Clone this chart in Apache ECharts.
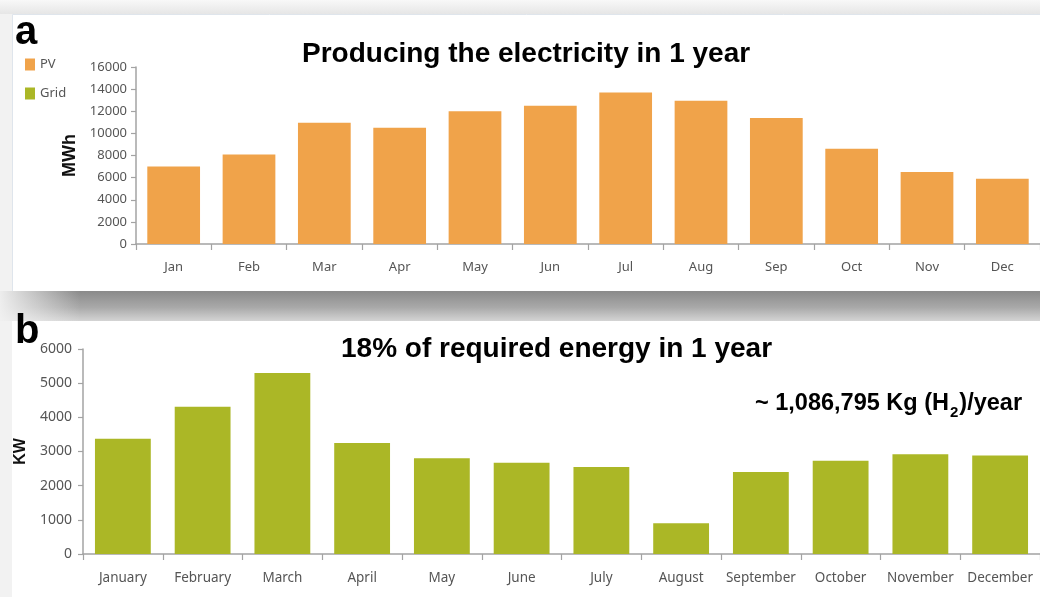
<!DOCTYPE html>
<html>
<head>
<meta charset="utf-8">
<script src="https://cdn.jsdelivr.net/npm/echarts@6/dist/echarts.min.js"></script>
<style>
  html, body { margin: 0; padding: 0; background: #f2f2f2; }
  #chart { width: 1040px; height: 597px; }
</style>
</head>
<body>
<div id="chart"></div>
<script>
// Monthly categories
const monthsShort = ['Jan', 'Feb', 'Mar', 'Apr', 'May', 'Jun', 'Jul', 'Aug', 'Sep', 'Oct', 'Nov', 'Dec'];
const monthsLong = ['January', 'February', 'March', 'April', 'May', 'June', 'July', 'August', 'September', 'October', 'November', 'December'];

// Panel a: PV electricity production (MWh)
const pvValues = [7000, 8100, 10950, 10500, 12000, 12500, 13700, 12950, 11400, 8600, 6500, 5900];

// Panel b: energy drawn (KW)
const gridValues = [3370, 4310, 5300, 3250, 2800, 2670, 2550, 900, 2400, 2730, 2920, 2880];

// Axis ranges
const pvAxis = { min: 0, max: 16000, interval: 2000 };
const gridAxis = { min: 0, max: 6000, interval: 1000 };

const titleA = 'Producing the electricity in 1 year';
const titleB = '18% of required energy in 1 year';

const PV_COLOR = '#F0A34A';
const GRID_COLOR = '#ABB726';
const AXIS_COLOR = '#a3a3a3';
const LABEL_COLOR = '#555555';
const LABEL_FONT = 'Noto Sans';
const BOLD_FONT = 'Liberation Sans';

const chart = echarts.init(document.getElementById('chart'), null, { renderer: 'canvas' });

function valueAxis(gridIndex, range, name, nameSize, labelSize, labelMargin, nameGap) {
  return {
    gridIndex: gridIndex,
    type: 'value',
    min: range.min,
    max: range.max,
    interval: range.interval,
    name: name,
    nameLocation: 'middle',
    nameRotate: 90,
    nameGap: nameGap,
    nameTextStyle: { fontFamily: BOLD_FONT, fontWeight: 'bold', fontSize: nameSize, color: '#111' },
    splitLine: { show: false },
    axisLine: { show: true, lineStyle: { color: AXIS_COLOR, width: 1.5 } },
    axisTick: { show: true, inside: false, length: 5, lineStyle: { color: AXIS_COLOR, width: 1.2 } },
    axisLabel: { color: LABEL_COLOR, fontFamily: LABEL_FONT, fontSize: labelSize, margin: labelMargin,
      formatter: function (v) { return String(v); } }
  };
}

function categoryAxis(gridIndex, data, labelSize) {
  return {
    gridIndex: gridIndex,
    type: 'category',
    data: data,
    boundaryGap: true,
    axisLine: { show: true, lineStyle: { color: AXIS_COLOR, width: 1.5 } },
    axisTick: { show: true, alignWithLabel: false, length: 6, lineStyle: { color: AXIS_COLOR, width: 1.2 } },
    axisLabel: { color: LABEL_COLOR, fontFamily: LABEL_FONT, fontSize: labelSize, margin: 17, interval: 0 },
    splitLine: { show: false }
  };
}

const option = {
  backgroundColor: '#f2f2f2',
  animation: false,
  graphic: [
    // top strip above card a
    { type: 'rect', z: -10, left: 0, top: 0, shape: { width: 1040, height: 14 },
      style: { fill: new echarts.graphic.LinearGradient(0, 0, 0, 1, [
        { offset: 0, color: '#f8f8f8' }, { offset: 1, color: '#e6e6e6' }]) } },
    // card a
    { type: 'rect', z: -9, left: 12, top: 14, shape: { width: 1028, height: 277 },
      style: { fill: '#ffffff', stroke: '#dfe5ec', lineWidth: 1 } },
    // drop shadow under card a
    { type: 'rect', z: -9, left: 0, top: 291, shape: { width: 1040, height: 30 },
      style: { fill: new echarts.graphic.LinearGradient(0, 0, 0, 1, [
        { offset: 0, color: '#8a8a8a' }, { offset: 0.55, color: '#a9a9a9' }, { offset: 1, color: '#d4d4d4' }]) } },
    { type: 'rect', z: -8, left: 0, top: 291, shape: { width: 80, height: 30 },
      style: { fill: new echarts.graphic.LinearGradient(0, 0, 1, 0, [
        { offset: 0, color: 'rgba(242,242,242,0.95)' }, { offset: 1, color: 'rgba(242,242,242,0)' }]) } },
    // panel b
    { type: 'rect', z: -9, left: 12, top: 321, shape: { width: 1028, height: 276 },
      style: { fill: '#ffffff' } },
    // panel letters
    { type: 'text', z: 10, left: 15, top: 13,
      style: { text: 'a', fontFamily: BOLD_FONT, fontWeight: 'bold', fontSize: 40, fill: '#000' } },
    { type: 'text', z: 10, left: 15, top: 312,
      style: { text: 'b', fontFamily: BOLD_FONT, fontWeight: 'bold', fontSize: 40, fill: '#000' } }
  ],
  title: [
    { text: titleA, left: 302, top: 40, padding: 0,
      textStyle: { fontFamily: BOLD_FONT, fontWeight: 'bold', fontSize: 28, color: '#000' } },
    { text: titleB, left: 341, top: 335, padding: 0,
      textStyle: { fontFamily: BOLD_FONT, fontWeight: 'bold', fontSize: 28, color: '#000' } },
    { text: '{b|~ 1,086,795 Kg (H}{s|2}{b|)/year}', left: 755, top: 390, padding: 0,
      textStyle: {
        rich: {
          b: { fontFamily: BOLD_FONT, fontWeight: 'bold', fontSize: 23.5, color: '#000', lineHeight: 27, verticalAlign: 'middle' },
          s: { fontFamily: BOLD_FONT, fontWeight: 'bold', fontSize: 15, color: '#000', lineHeight: 15, verticalAlign: 'bottom', padding: [0, 1, -3, 1] }
        }
      } }
  ],
  legend: {
    orient: 'vertical',
    left: 25,
    top: 58,
    padding: 0,
    itemWidth: 10,
    itemHeight: 12,
    itemGap: 16,
    icon: 'rect',
    data: ['PV', 'Grid'],
    textStyle: { color: '#555', fontFamily: LABEL_FONT, fontSize: 13 }
  },
  grid: [
    { left: 136, top: 67, right: -3, bottom: 353, containLabel: false },
    { left: 83, top: 349, right: -6, bottom: 43, containLabel: false }
  ],
  xAxis: [
    categoryAxis(0, monthsShort, 13),
    categoryAxis(1, monthsLong, 13.5)
  ],
  yAxis: [
    valueAxis(0, pvAxis, 'MWh', 18, 13, 9, 53),
    valueAxis(1, gridAxis, 'KW', 16, 14, 11, 52)
  ],
  series: [
    { name: 'PV', type: 'bar', xAxisIndex: 0, yAxisIndex: 0, data: pvValues,
      barCategoryGap: '30%', itemStyle: { color: PV_COLOR } },
    { name: 'Grid', type: 'bar', xAxisIndex: 1, yAxisIndex: 1, data: gridValues,
      barCategoryGap: '30%', itemStyle: { color: GRID_COLOR } }
  ]
};

chart.setOption(option);
</script>
</body>
</html>
